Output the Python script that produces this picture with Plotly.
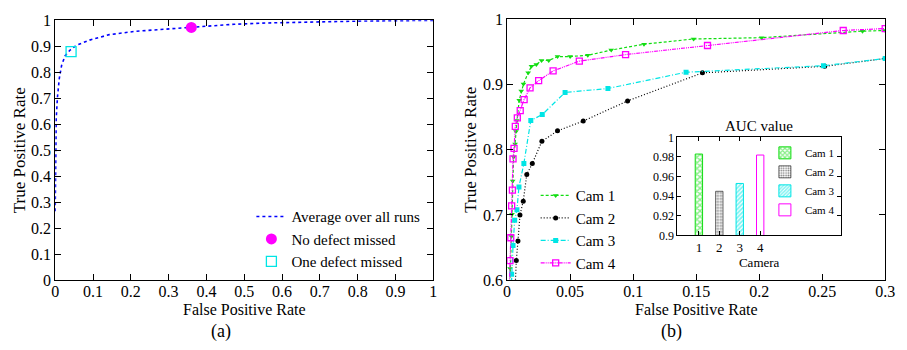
import plotly.graph_objects as go

W, H = 907, 350
FONT = "'Liberation Serif', 'Times New Roman', 'DejaVu Serif', serif"

# ---------------- Panel (a) data ----------------
avg_fpr = [0, 0.001, 0.0026, 0.006, 0.011, 0.017, 0.026, 0.039, 0.056, 0.091,
           0.143, 0.213, 0.30, 0.36, 0.473, 0.56, 0.70, 0.82, 1.0]
avg_tpr = [0.265, 0.436, 0.62, 0.705, 0.778, 0.827, 0.863, 0.885, 0.904, 0.924,
           0.945, 0.958, 0.967, 0.973, 0.985, 0.99, 0.995, 0.9976, 1.0]
no_defect_fpr = [0.36]
no_defect_tpr = [0.973]
one_defect_fpr = [0.042]
one_defect_tpr = [0.88]

# ---------------- Panel (b) data ----------------
cam1_fpr = [0.0015, 0.0023, 0.0034, 0.0039, 0.0044, 0.0052, 0.0063, 0.007, 0.0078, 0.0096,
            0.0112, 0.013, 0.0167, 0.0193, 0.0232, 0.0273, 0.033, 0.040, 0.050, 0.064,
            0.0826, 0.1086, 0.148, 0.202, 0.282, 0.30]
cam1_tpr = [0.55, 0.618, 0.667, 0.701, 0.752, 0.789, 0.809, 0.828, 0.845, 0.876,
            0.890, 0.901, 0.918, 0.928, 0.931, 0.937, 0.937, 0.943, 0.943, 0.945,
            0.953, 0.962, 0.970, 0.972, 0.982, 0.983]

cam2_fpr = [0.0055, 0.0073, 0.0086, 0.0102, 0.0128, 0.0156, 0.020, 0.0276, 0.040, 0.0604,
            0.0956, 0.155, 0.252, 0.30]
cam2_tpr = [0.55, 0.630, 0.660, 0.700, 0.721, 0.762, 0.779, 0.813, 0.829, 0.844,
            0.875, 0.918, 0.928, 0.940]

cam3_fpr = [0.0025, 0.0036, 0.0047, 0.006, 0.0078, 0.0094, 0.0133, 0.0188, 0.0279, 0.046,
            0.080, 0.142, 0.251, 0.30]
cam3_tpr = [0.55, 0.609, 0.653, 0.692, 0.708, 0.743, 0.779, 0.845, 0.854, 0.888,
            0.894, 0.919, 0.929, 0.940]

cam4_fpr = [0.0012, 0.0023, 0.0029, 0.0036, 0.0042, 0.0047, 0.0055, 0.0065, 0.0081, 0.0104,
            0.0135, 0.0182, 0.025, 0.0365, 0.0573, 0.094, 0.159, 0.2667, 0.30]
cam4_tpr = [0.55, 0.630, 0.665, 0.714, 0.738, 0.786, 0.802, 0.836, 0.849, 0.860,
            0.877, 0.895, 0.906, 0.921, 0.936, 0.946, 0.960, 0.983, 0.986]

# inset AUC values
cameras = [1, 2, 3, 4]
auc_values = [0.983, 0.945, 0.953, 0.982]
cam_names = ["Cam 1", "Cam 2", "Cam 3", "Cam 4"]

# tick labels
a_ticks = [0, 0.1, 0.2, 0.3, 0.4, 0.5, 0.6, 0.7, 0.8, 0.9, 1]
a_ticktext = ["0", "0.1", "0.2", "0.3", "0.4", "0.5", "0.6", "0.7", "0.8", "0.9", "1"]
b_xticks = [0, 0.05, 0.1, 0.15, 0.2, 0.25, 0.3]
b_xticktext = ["0", "0.05", "0.1", "0.15", "0.2", "0.25", "0.3"]
b_yticks = [0.6, 0.7, 0.8, 0.9, 1]
b_yticktext = ["0.6", "0.7", "0.8", "0.9", "1"]
in_yticks = [0.9, 0.92, 0.94, 0.96, 0.98, 1]
in_yticktext = ["0.9", "0.92", "0.94", "0.96", "0.98", "1"]

GREEN = "#11dd11"
CYAN = "#00e5e5"
MAGENTA = "#ff00ff"
BLUE = "#0000ff"
BLACK = "#000000"

fig = go.Figure()

# ---- panel (a) ----
fig.add_trace(go.Scatter(x=avg_fpr, y=avg_tpr, mode="lines", name="Average over all runs",
                         line=dict(color=BLUE, width=1.6, dash="dot"),
                         xaxis="x", yaxis="y", legend="legend"))
fig.add_trace(go.Scatter(x=no_defect_fpr, y=no_defect_tpr, mode="markers", name="No defect missed",
                         marker=dict(color=MAGENTA, size=11, symbol="circle"),
                         xaxis="x", yaxis="y", legend="legend"))
fig.add_trace(go.Scatter(x=one_defect_fpr, y=one_defect_tpr, mode="markers", name="One defect missed",
                         marker=dict(color=CYAN, size=10, symbol="square-open", line=dict(width=1.3)),
                         xaxis="x", yaxis="y", legend="legend"))

# ---- panel (b) ----
fig.add_trace(go.Scatter(x=cam1_fpr, y=cam1_tpr, mode="lines+markers", name="Cam 1",
                         line=dict(color=GREEN, width=1.2, dash="3px,2px"),
                         marker=dict(symbol="triangle-down", size=5, color=GREEN),
                         xaxis="x2", yaxis="y2", legend="legend2"))
fig.add_trace(go.Scatter(x=cam2_fpr, y=cam2_tpr, mode="lines+markers", name="Cam 2",
                         line=dict(color=BLACK, width=1.2, dash="1px,2px"),
                         marker=dict(symbol="circle", size=5, color=BLACK),
                         xaxis="x2", yaxis="y2", legend="legend2"))
fig.add_trace(go.Scatter(x=cam3_fpr, y=cam3_tpr, mode="lines+markers", name="Cam 3",
                         line=dict(color=CYAN, width=1.2, dash="5px,2px,1px,2px"),
                         marker=dict(symbol="square", size=5, color=CYAN),
                         xaxis="x2", yaxis="y2", legend="legend2"))
fig.add_trace(go.Scatter(x=cam4_fpr, y=cam4_tpr, mode="lines+markers", name="Cam 4",
                         line=dict(color=MAGENTA, width=1.2, dash="4px,1px,1px,1px,1px,1px"),
                         marker=dict(symbol="square-open", size=6, color=MAGENTA, line=dict(width=1.3)),
                         xaxis="x2", yaxis="y2", legend="legend2"))

# ---- inset bars ----
bar_styles = [
    dict(color="white", line=dict(color=GREEN, width=1),
         pattern=dict(shape="x", fgcolor=GREEN, bgcolor="white", size=4, solidity=0.6)),
    dict(color="white", line=dict(color=BLACK, width=0.6),
         pattern=dict(shape=".", fgcolor=BLACK, bgcolor="white", size=3, solidity=0.4)),
    dict(color="white", line=dict(color=CYAN, width=1),
         pattern=dict(shape="/", fgcolor=CYAN, bgcolor="white", size=3, solidity=0.6)),
    dict(color="rgba(0,0,0,0)", line=dict(color=MAGENTA, width=1)),
]
for cam, val, nm, st in zip(cameras, auc_values, cam_names, bar_styles):
    fig.add_trace(go.Bar(x=[cam], y=[val], name=nm, width=0.36, marker=st,
                         xaxis="x3", yaxis="y3", legend="legend3"))


def px_x(p):
    return p / W


def px_y(p):
    return 1 - p / H


axis_common = dict(showline=True, linecolor="black", linewidth=1, mirror="ticks",
                   ticks="inside", ticklen=6, tickcolor="black", tickwidth=1,
                   showgrid=False, zeroline=False,
                   tickfont=dict(family=FONT, size=16, color="black"))

ann = dict(xref="paper", yref="paper", showarrow=False, xanchor="center", yanchor="middle")

fig.update_layout(
    width=W, height=H,
    margin=dict(l=0, r=0, t=0, b=0),
    paper_bgcolor="white", plot_bgcolor="white",
    font=dict(family=FONT, color="black"),
    barmode="overlay",
    xaxis=dict(axis_common, domain=[px_x(52), px_x(436)], range=[0, 1], anchor="y",
               tickvals=a_ticks, ticktext=a_ticktext, ticklabelstandoff=-3),
    yaxis=dict(axis_common, domain=[px_y(286), px_y(13)], range=[0, 1], anchor="x",
               tickvals=a_ticks, ticktext=a_ticktext,
               title=dict(text="True Positive Rate", font=dict(family=FONT, size=17), standoff=1)),
    xaxis2=dict(axis_common, domain=[px_x(511), px_x(895)], range=[0, 0.3], anchor="y2",
                tickvals=b_xticks, ticktext=b_xticktext, ticklabelstandoff=-3),
    yaxis2=dict(axis_common, domain=[px_y(286), px_y(12)], range=[0.6, 1], anchor="x2",
                tickvals=b_yticks, ticktext=b_yticktext,
                title=dict(text="True Positive Rate", font=dict(family=FONT, size=17), standoff=1)),
    xaxis3=dict(axis_common, domain=[px_x(684), px_x(850)], range=[-0.05, 7.95], anchor="y3",
                tickvals=cameras, ticktext=[str(c) for c in cameras], ticklen=4,
                tickfont=dict(family=FONT, size=13, color="black"),
                title=dict(text="Camera", font=dict(family=FONT, size=13), standoff=1)),
    yaxis3=dict(axis_common, domain=[px_y(239), px_y(136)], range=[0.9, 1], anchor="x3",
                tickvals=in_yticks, ticktext=in_yticktext, ticklen=4,
                tickfont=dict(family=FONT, size=12, color="black")),
    legend=dict(x=px_x(428), xanchor="right", y=px_y(284), yanchor="bottom",
                bgcolor="rgba(0,0,0,0)", font=dict(family=FONT, size=15),
                itemwidth=30, tracegroupgap=0),
    legend2=dict(x=px_x(540), xanchor="left", y=px_y(285), yanchor="bottom",
                 bgcolor="rgba(0,0,0,0)", font=dict(family=FONT, size=15),
                 itemwidth=30, tracegroupgap=0),
    legend3=dict(x=px_x(849), xanchor="right", y=px_y(137), yanchor="top",
                 bgcolor="rgba(0,0,0,0)", font=dict(family=FONT, size=11),
                 itemwidth=30, tracegroupgap=0),
    showlegend=True,
    annotations=[
        dict(ann, text="False Positive Rate", x=px_x(244), y=px_y(316.5),
             font=dict(family=FONT, size=16)),
        dict(ann, text="False Positive Rate", x=px_x(703), y=px_y(316.5),
             font=dict(family=FONT, size=16)),
        dict(ann, text="(a)", x=px_x(220), y=px_y(339.5), font=dict(family=FONT, size=18)),
        dict(ann, text="(b)", x=px_x(678), y=px_y(339.5), font=dict(family=FONT, size=18)),
        dict(ann, text="AUC value", x=px_x(767), y=px_y(124), font=dict(family=FONT, size=15)),
    ],
)

fig.write_html("out.html")
